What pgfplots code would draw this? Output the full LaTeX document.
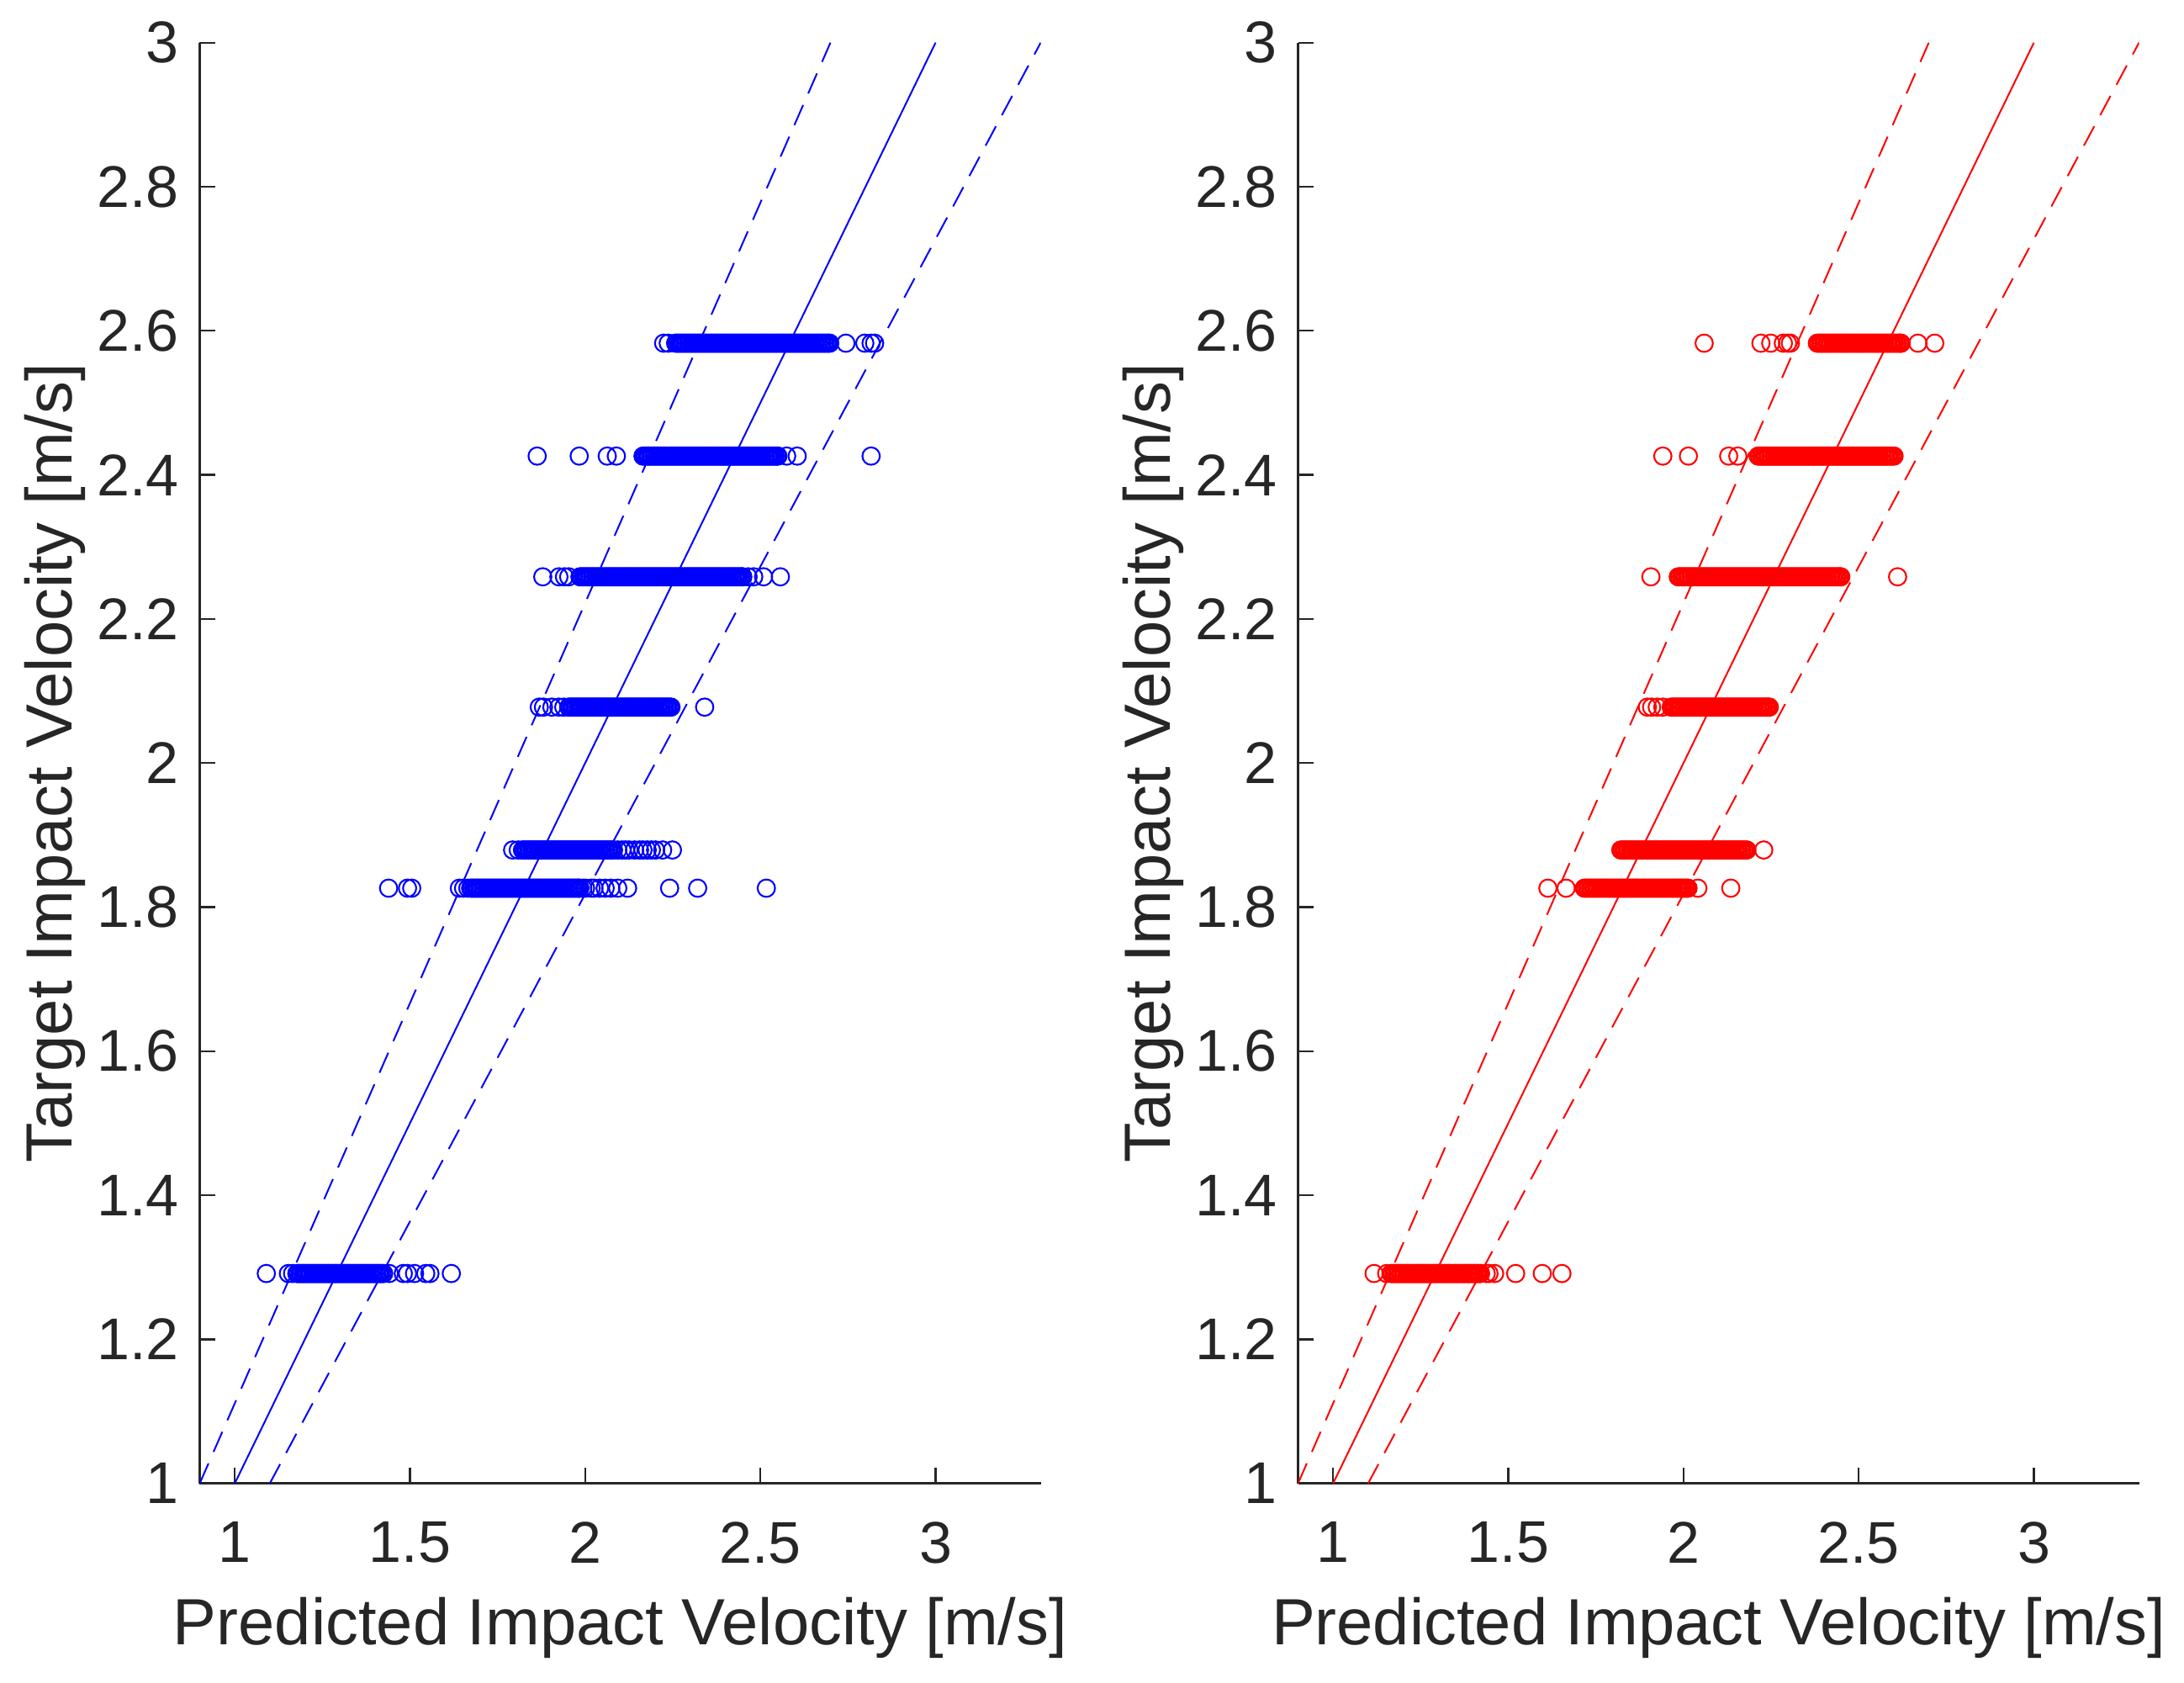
\documentclass[border=0pt]{standalone}
\usepackage{fontspec}
\setmainfont{Liberation Sans}
\usepackage{pgfplots}
\pgfplotsset{compat=1.18}
\definecolor{mgray}{rgb}{0.15,0.15,0.15}
\newcommand\ticksize{\fontsize{14pt}{16pt}\selectfont}
\newcommand\labelsize{\fontsize{15.55pt}{18pt}\selectfont}
\pgfplotsset{
  mstyle/.style={
    width=200pt, height=342.6pt, scale only axis,
    xmin=0.9, xmax=3.3, ymin=1, ymax=3,
    axis lines=left,
    axis line style={-, draw=mgray, line width=0.6pt},
    x axis line style={-}, y axis line style={-},
    tick align=inside, major tick length=3.7pt,
    tick style={draw=mgray, line width=0.45pt},
    xtick={1,1.5,2,2.5,3},
    ytick={1,1.2,1.4,1.6,1.8,2,2.2,2.4,2.6,2.8,3},
    /pgf/number format/assume math mode=true,
    ticklabel style={font=\ticksize, text=mgray},
    xticklabel style={anchor=north, inner sep=0pt, yshift=-9pt},
    yticklabel style={anchor=east, inner sep=0pt, xshift=-4.8pt},
    xlabel={Predicted Impact Velocity [m/s]},
    ylabel={Target Impact Velocity [m/s]},
    every axis x label/.style={at={(axis description cs:0.5,-0.11208)}, anchor=base, font=\labelsize, text=mgray},
    every axis y label/.style={at={(axis description cs:-0.152,0.5)}, rotate=90, anchor=base, font=\labelsize, text=mgray},
  },
  sc/.style={only marks, mark=o, mark size=2.07pt, mark options={line width=0.42pt, draw=#1}},
}
\begin{document}
\begin{tikzpicture}
\path[use as bounding box] (-47.5pt,-47.26pt) rectangle (471.9pt,352.74pt);
% ---------------- left panel ----------------
\begin{axis}[mstyle, at={(0pt,0pt)}, anchor=south west]
% y = 1.2914
\addplot[sc=blue] coordinates {
(1.090,1.2914)(1.153,1.2914)(1.165,1.2914)
(1.177,1.2914)(1.186,1.2914)(1.195,1.2914)(1.204,1.2914)(1.213,1.2914)(1.222,1.2914)(1.231,1.2914)(1.240,1.2914)(1.249,1.2914)(1.258,1.2914)(1.267,1.2914)(1.276,1.2914)(1.285,1.2914)(1.294,1.2914)(1.303,1.2914)(1.312,1.2914)(1.321,1.2914)(1.330,1.2914)(1.339,1.2914)(1.348,1.2914)(1.357,1.2914)(1.366,1.2914)(1.375,1.2914)(1.384,1.2914)(1.393,1.2914)(1.402,1.2914)(1.411,1.2914)(1.420,1.2914)
(1.425,1.2914)(1.441,1.2914)(1.481,1.2914)(1.493,1.2914)(1.513,1.2914)(1.545,1.2914)(1.557,1.2914)(1.618,1.2914)
};
\addplot[sc=blue] coordinates {
(1.181,1.2914)(1.190,1.2914)(1.199,1.2914)(1.208,1.2914)(1.217,1.2914)(1.226,1.2914)(1.235,1.2914)(1.244,1.2914)(1.253,1.2914)(1.262,1.2914)(1.271,1.2914)(1.280,1.2914)(1.289,1.2914)(1.298,1.2914)(1.307,1.2914)(1.316,1.2914)(1.325,1.2914)(1.334,1.2914)(1.343,1.2914)(1.352,1.2914)(1.361,1.2914)(1.370,1.2914)(1.379,1.2914)(1.388,1.2914)(1.397,1.2914)(1.406,1.2914)(1.415,1.2914)
};
% y = 1.8263
\addplot[sc=blue] coordinates {
(1.439,1.8263)(1.493,1.8263)(1.505,1.8263)(1.641,1.8263)(1.653,1.8263)(1.665,1.8263)
(1.673,1.8263)(1.682,1.8263)(1.691,1.8263)(1.700,1.8263)(1.709,1.8263)(1.718,1.8263)(1.727,1.8263)(1.736,1.8263)(1.745,1.8263)(1.754,1.8263)(1.763,1.8263)(1.772,1.8263)(1.781,1.8263)(1.790,1.8263)(1.799,1.8263)(1.808,1.8263)(1.817,1.8263)(1.826,1.8263)(1.835,1.8263)(1.844,1.8263)(1.853,1.8263)(1.862,1.8263)(1.871,1.8263)(1.880,1.8263)(1.889,1.8263)(1.898,1.8263)(1.907,1.8263)(1.916,1.8263)(1.925,1.8263)(1.934,1.8263)(1.943,1.8263)(1.952,1.8263)(1.961,1.8263)(1.970,1.8263)(1.979,1.8263)
(1.985,1.8263)(1.993,1.8263)(2.001,1.8263)(2.017,1.8263)(2.025,1.8263)(2.041,1.8263)(2.057,1.8263)(2.073,1.8263)(2.093,1.8263)(2.121,1.8263)(2.241,1.8263)(2.321,1.8263)(2.517,1.8263)
};
\addplot[sc=blue] coordinates {
(1.677,1.8263)(1.686,1.8263)(1.695,1.8263)(1.704,1.8263)(1.713,1.8263)(1.722,1.8263)(1.731,1.8263)(1.740,1.8263)(1.749,1.8263)(1.758,1.8263)(1.767,1.8263)(1.776,1.8263)(1.785,1.8263)(1.794,1.8263)(1.803,1.8263)(1.812,1.8263)(1.821,1.8263)(1.830,1.8263)(1.839,1.8263)(1.848,1.8263)(1.857,1.8263)(1.866,1.8263)(1.875,1.8263)(1.884,1.8263)(1.893,1.8263)(1.902,1.8263)(1.911,1.8263)(1.920,1.8263)(1.929,1.8263)(1.938,1.8263)(1.947,1.8263)(1.956,1.8263)(1.965,1.8263)(1.974,1.8263)(1.982,1.8263)
};
% y = 1.8793
\addplot[sc=blue] coordinates {
(1.793,1.8793)(1.809,1.8793)
(1.821,1.8793)(1.830,1.8793)(1.839,1.8793)(1.848,1.8793)(1.857,1.8793)(1.866,1.8793)(1.875,1.8793)(1.884,1.8793)(1.893,1.8793)(1.902,1.8793)(1.911,1.8793)(1.920,1.8793)(1.929,1.8793)(1.938,1.8793)(1.947,1.8793)(1.956,1.8793)(1.965,1.8793)(1.974,1.8793)(1.983,1.8793)(1.992,1.8793)(2.001,1.8793)(2.010,1.8793)(2.019,1.8793)(2.028,1.8793)(2.037,1.8793)(2.046,1.8793)(2.055,1.8793)(2.064,1.8793)(2.073,1.8793)
(2.081,1.8793)(2.093,1.8793)(2.105,1.8793)(2.115,1.8793)(2.125,1.8793)(2.141,1.8793)(2.155,1.8793)(2.165,1.8793)(2.177,1.8793)(2.189,1.8793)(2.201,1.8793)(2.221,1.8793)(2.249,1.8793)
};
\addplot[sc=blue] coordinates {
(1.825,1.8793)(1.834,1.8793)(1.843,1.8793)(1.852,1.8793)(1.861,1.8793)(1.870,1.8793)(1.879,1.8793)(1.888,1.8793)(1.897,1.8793)(1.906,1.8793)(1.915,1.8793)(1.924,1.8793)(1.933,1.8793)(1.942,1.8793)(1.951,1.8793)(1.960,1.8793)(1.969,1.8793)(1.978,1.8793)(1.987,1.8793)(1.996,1.8793)(2.005,1.8793)(2.014,1.8793)(2.023,1.8793)(2.032,1.8793)(2.041,1.8793)(2.050,1.8793)(2.059,1.8793)(2.068,1.8793)(2.077,1.8793)
};
% y = 2.0776
\addplot[sc=blue] coordinates {
(1.869,2.0776)(1.881,2.0776)(1.905,2.0776)(1.925,2.0776)(1.939,2.0776)
(1.953,2.0776)(1.962,2.0776)(1.971,2.0776)(1.980,2.0776)(1.989,2.0776)(1.998,2.0776)(2.007,2.0776)(2.016,2.0776)(2.025,2.0776)(2.034,2.0776)(2.043,2.0776)(2.052,2.0776)(2.061,2.0776)(2.070,2.0776)(2.079,2.0776)(2.088,2.0776)(2.097,2.0776)(2.106,2.0776)(2.115,2.0776)(2.124,2.0776)(2.133,2.0776)(2.142,2.0776)(2.151,2.0776)(2.160,2.0776)(2.169,2.0776)(2.178,2.0776)(2.187,2.0776)(2.196,2.0776)(2.205,2.0776)(2.214,2.0776)(2.223,2.0776)(2.232,2.0776)(2.241,2.0776)
(2.245,2.0776)(2.341,2.0776)
};
\addplot[sc=blue] coordinates {
(1.957,2.0776)(1.966,2.0776)(1.975,2.0776)(1.984,2.0776)(1.993,2.0776)(2.002,2.0776)(2.011,2.0776)(2.020,2.0776)(2.029,2.0776)(2.038,2.0776)(2.047,2.0776)(2.056,2.0776)(2.065,2.0776)(2.074,2.0776)(2.083,2.0776)(2.092,2.0776)(2.101,2.0776)(2.110,2.0776)(2.119,2.0776)(2.128,2.0776)(2.137,2.0776)(2.146,2.0776)(2.155,2.0776)(2.164,2.0776)(2.173,2.0776)(2.182,2.0776)(2.191,2.0776)(2.200,2.0776)(2.209,2.0776)(2.218,2.0776)(2.227,2.0776)(2.236,2.0776)
};
% y = 2.2585
\addplot[sc=blue] coordinates {
(1.879,2.2585)(1.925,2.2585)(1.941,2.2585)(1.953,2.2585)
(1.985,2.2585)(1.994,2.2585)(2.003,2.2585)(2.012,2.2585)(2.021,2.2585)(2.030,2.2585)(2.039,2.2585)(2.048,2.2585)(2.057,2.2585)(2.066,2.2585)(2.075,2.2585)(2.084,2.2585)(2.093,2.2585)(2.102,2.2585)(2.111,2.2585)(2.120,2.2585)(2.129,2.2585)(2.138,2.2585)(2.147,2.2585)(2.156,2.2585)(2.165,2.2585)(2.174,2.2585)(2.183,2.2585)(2.192,2.2585)(2.201,2.2585)(2.210,2.2585)(2.219,2.2585)(2.228,2.2585)(2.237,2.2585)(2.246,2.2585)(2.255,2.2585)(2.264,2.2585)(2.273,2.2585)(2.282,2.2585)(2.291,2.2585)(2.300,2.2585)(2.309,2.2585)(2.318,2.2585)(2.327,2.2585)(2.336,2.2585)(2.345,2.2585)(2.354,2.2585)(2.363,2.2585)(2.372,2.2585)(2.381,2.2585)(2.390,2.2585)(2.399,2.2585)(2.408,2.2585)(2.417,2.2585)(2.426,2.2585)(2.435,2.2585)(2.444,2.2585)
(2.450,2.2585)(2.465,2.2585)(2.481,2.2585)(2.509,2.2585)(2.557,2.2585)
};
\addplot[sc=blue] coordinates {
(1.989,2.2585)(1.998,2.2585)(2.007,2.2585)(2.016,2.2585)(2.025,2.2585)(2.034,2.2585)(2.043,2.2585)(2.052,2.2585)(2.061,2.2585)(2.070,2.2585)(2.079,2.2585)(2.088,2.2585)(2.097,2.2585)(2.106,2.2585)(2.115,2.2585)(2.124,2.2585)(2.133,2.2585)(2.142,2.2585)(2.151,2.2585)(2.160,2.2585)(2.169,2.2585)(2.178,2.2585)(2.187,2.2585)(2.196,2.2585)(2.205,2.2585)(2.214,2.2585)(2.223,2.2585)(2.232,2.2585)(2.241,2.2585)(2.250,2.2585)(2.259,2.2585)(2.268,2.2585)(2.277,2.2585)(2.286,2.2585)(2.295,2.2585)(2.304,2.2585)(2.313,2.2585)(2.322,2.2585)(2.331,2.2585)(2.340,2.2585)(2.349,2.2585)(2.358,2.2585)(2.367,2.2585)(2.376,2.2585)(2.385,2.2585)(2.394,2.2585)(2.403,2.2585)(2.412,2.2585)(2.421,2.2585)(2.430,2.2585)(2.439,2.2585)(2.447,2.2585)
};
% y = 2.4261
\addplot[sc=blue] coordinates {
(1.863,2.4261)(1.983,2.4261)(2.063,2.4261)(2.089,2.4261)(2.165,2.4261)
(2.169,2.4261)(2.178,2.4261)(2.187,2.4261)(2.196,2.4261)(2.205,2.4261)(2.214,2.4261)(2.223,2.4261)(2.232,2.4261)(2.241,2.4261)(2.250,2.4261)(2.259,2.4261)(2.268,2.4261)(2.277,2.4261)(2.286,2.4261)(2.295,2.4261)(2.304,2.4261)(2.313,2.4261)(2.322,2.4261)(2.331,2.4261)(2.340,2.4261)(2.349,2.4261)(2.358,2.4261)(2.367,2.4261)(2.376,2.4261)(2.385,2.4261)(2.394,2.4261)(2.403,2.4261)(2.412,2.4261)(2.421,2.4261)(2.430,2.4261)(2.439,2.4261)(2.448,2.4261)(2.457,2.4261)(2.466,2.4261)(2.475,2.4261)(2.484,2.4261)(2.493,2.4261)(2.502,2.4261)(2.511,2.4261)(2.520,2.4261)(2.529,2.4261)(2.538,2.4261)(2.547,2.4261)
(2.550,2.4261)(2.575,2.4261)(2.605,2.4261)(2.816,2.4261)
};
\addplot[sc=blue] coordinates {
(2.173,2.4261)(2.182,2.4261)(2.191,2.4261)(2.200,2.4261)(2.209,2.4261)(2.218,2.4261)(2.227,2.4261)(2.236,2.4261)(2.245,2.4261)(2.254,2.4261)(2.263,2.4261)(2.272,2.4261)(2.281,2.4261)(2.290,2.4261)(2.299,2.4261)(2.308,2.4261)(2.317,2.4261)(2.326,2.4261)(2.335,2.4261)(2.344,2.4261)(2.353,2.4261)(2.362,2.4261)(2.371,2.4261)(2.380,2.4261)(2.389,2.4261)(2.398,2.4261)(2.407,2.4261)(2.416,2.4261)(2.425,2.4261)(2.434,2.4261)(2.443,2.4261)(2.452,2.4261)(2.461,2.4261)(2.470,2.4261)(2.479,2.4261)(2.488,2.4261)(2.497,2.4261)(2.506,2.4261)(2.515,2.4261)(2.524,2.4261)(2.533,2.4261)(2.542,2.4261)
};
% y = 2.5828
\addplot[sc=blue] coordinates {
(2.224,2.5828)(2.237,2.5828)
(2.258,2.5828)(2.267,2.5828)(2.276,2.5828)(2.285,2.5828)(2.294,2.5828)(2.303,2.5828)(2.312,2.5828)(2.321,2.5828)(2.330,2.5828)(2.339,2.5828)(2.348,2.5828)(2.357,2.5828)(2.366,2.5828)(2.375,2.5828)(2.384,2.5828)(2.393,2.5828)(2.402,2.5828)(2.411,2.5828)(2.420,2.5828)(2.429,2.5828)(2.438,2.5828)(2.447,2.5828)(2.456,2.5828)(2.465,2.5828)(2.474,2.5828)(2.483,2.5828)(2.492,2.5828)(2.501,2.5828)(2.510,2.5828)(2.519,2.5828)(2.528,2.5828)(2.537,2.5828)(2.546,2.5828)(2.555,2.5828)(2.564,2.5828)(2.573,2.5828)(2.582,2.5828)(2.591,2.5828)(2.600,2.5828)(2.609,2.5828)(2.618,2.5828)(2.627,2.5828)(2.636,2.5828)(2.645,2.5828)(2.654,2.5828)(2.663,2.5828)(2.672,2.5828)(2.681,2.5828)(2.690,2.5828)
(2.698,2.5828)(2.744,2.5828)(2.798,2.5828)(2.816,2.5828)(2.826,2.5828)
};
\addplot[sc=blue] coordinates {
(2.262,2.5828)(2.271,2.5828)(2.280,2.5828)(2.289,2.5828)(2.298,2.5828)(2.307,2.5828)(2.316,2.5828)(2.325,2.5828)(2.334,2.5828)(2.343,2.5828)(2.352,2.5828)(2.361,2.5828)(2.370,2.5828)(2.379,2.5828)(2.388,2.5828)(2.397,2.5828)(2.406,2.5828)(2.415,2.5828)(2.424,2.5828)(2.433,2.5828)(2.442,2.5828)(2.451,2.5828)(2.460,2.5828)(2.469,2.5828)(2.478,2.5828)(2.487,2.5828)(2.496,2.5828)(2.505,2.5828)(2.514,2.5828)(2.523,2.5828)(2.532,2.5828)(2.541,2.5828)(2.550,2.5828)(2.559,2.5828)(2.568,2.5828)(2.577,2.5828)(2.586,2.5828)(2.595,2.5828)(2.604,2.5828)(2.613,2.5828)(2.622,2.5828)(2.631,2.5828)(2.640,2.5828)(2.649,2.5828)(2.658,2.5828)(2.667,2.5828)(2.676,2.5828)(2.685,2.5828)(2.694,2.5828)
};
\addplot[blue, line width=0.4pt] coordinates {(1,1) (3,3)};
\addplot[blue, line width=0.4pt, dash pattern=on 5.2pt off 3pt] coordinates {(0.9,1) (2.7,3)};
\addplot[blue, line width=0.4pt, dash pattern=on 5.2pt off 3pt] coordinates {(1.1,1) (3.3,3)};
\end{axis}
% ---------------- right panel ----------------
\begin{axis}[mstyle, at={(261.2pt,0pt)}, anchor=south west]
% y = 1.2914
\addplot[sc=red] coordinates {
(1.117,1.2914)(1.153,1.2914)
(1.165,1.2914)(1.174,1.2914)(1.183,1.2914)(1.192,1.2914)(1.201,1.2914)(1.210,1.2914)(1.219,1.2914)(1.228,1.2914)(1.237,1.2914)(1.246,1.2914)(1.255,1.2914)(1.264,1.2914)(1.273,1.2914)(1.282,1.2914)(1.291,1.2914)(1.300,1.2914)(1.309,1.2914)(1.318,1.2914)(1.327,1.2914)(1.336,1.2914)(1.345,1.2914)(1.354,1.2914)(1.363,1.2914)(1.372,1.2914)(1.381,1.2914)(1.390,1.2914)(1.399,1.2914)(1.408,1.2914)(1.417,1.2914)
(1.421,1.2914)(1.437,1.2914)(1.445,1.2914)(1.461,1.2914)(1.521,1.2914)(1.597,1.2914)(1.653,1.2914)
};
\addplot[sc=red] coordinates {
(1.169,1.2914)(1.178,1.2914)(1.187,1.2914)(1.196,1.2914)(1.205,1.2914)(1.214,1.2914)(1.223,1.2914)(1.232,1.2914)(1.241,1.2914)(1.250,1.2914)(1.259,1.2914)(1.268,1.2914)(1.277,1.2914)(1.286,1.2914)(1.295,1.2914)(1.304,1.2914)(1.313,1.2914)(1.322,1.2914)(1.331,1.2914)(1.340,1.2914)(1.349,1.2914)(1.358,1.2914)(1.367,1.2914)(1.376,1.2914)(1.385,1.2914)(1.394,1.2914)(1.403,1.2914)(1.412,1.2914)
};
% y = 1.8263
\addplot[sc=red] coordinates {
(1.613,1.8263)(1.665,1.8263)
(1.717,1.8263)(1.726,1.8263)(1.735,1.8263)(1.744,1.8263)(1.753,1.8263)(1.762,1.8263)(1.771,1.8263)(1.780,1.8263)(1.789,1.8263)(1.798,1.8263)(1.807,1.8263)(1.816,1.8263)(1.825,1.8263)(1.834,1.8263)(1.843,1.8263)(1.852,1.8263)(1.861,1.8263)(1.870,1.8263)(1.879,1.8263)(1.888,1.8263)(1.897,1.8263)(1.906,1.8263)(1.915,1.8263)(1.924,1.8263)(1.933,1.8263)(1.942,1.8263)(1.951,1.8263)(1.960,1.8263)(1.969,1.8263)(1.978,1.8263)(1.987,1.8263)(1.996,1.8263)(2.005,1.8263)
(2.013,1.8263)(2.041,1.8263)(2.135,1.8263)
};
\addplot[sc=red] coordinates {
(1.721,1.8263)(1.730,1.8263)(1.739,1.8263)(1.748,1.8263)(1.757,1.8263)(1.766,1.8263)(1.775,1.8263)(1.784,1.8263)(1.793,1.8263)(1.802,1.8263)(1.811,1.8263)(1.820,1.8263)(1.829,1.8263)(1.838,1.8263)(1.847,1.8263)(1.856,1.8263)(1.865,1.8263)(1.874,1.8263)(1.883,1.8263)(1.892,1.8263)(1.901,1.8263)(1.910,1.8263)(1.919,1.8263)(1.928,1.8263)(1.937,1.8263)(1.946,1.8263)(1.955,1.8263)(1.964,1.8263)(1.973,1.8263)(1.982,1.8263)(1.991,1.8263)(2.000,1.8263)(2.009,1.8263)
};
% y = 1.8793
\addplot[sc=red] coordinates {
(1.821,1.8793)(1.830,1.8793)(1.839,1.8793)(1.848,1.8793)(1.853,1.8793)(1.857,1.8793)(1.866,1.8793)(1.875,1.8793)(1.884,1.8793)(1.893,1.8793)(1.902,1.8793)(1.911,1.8793)(1.920,1.8793)(1.929,1.8793)(1.938,1.8793)(1.947,1.8793)(1.956,1.8793)(1.965,1.8793)(1.974,1.8793)(1.983,1.8793)(1.992,1.8793)(2.001,1.8793)(2.010,1.8793)(2.019,1.8793)(2.028,1.8793)(2.037,1.8793)(2.046,1.8793)(2.055,1.8793)(2.064,1.8793)(2.073,1.8793)(2.082,1.8793)(2.091,1.8793)(2.100,1.8793)(2.109,1.8793)(2.118,1.8793)(2.127,1.8793)(2.136,1.8793)(2.145,1.8793)(2.154,1.8793)(2.163,1.8793)(2.172,1.8793)(2.181,1.8793)
(2.229,1.8793)
};
\addplot[sc=red] coordinates {
(1.825,1.8793)(1.834,1.8793)(1.843,1.8793)(1.852,1.8793)(1.861,1.8793)(1.870,1.8793)(1.879,1.8793)(1.888,1.8793)(1.897,1.8793)(1.906,1.8793)(1.915,1.8793)(1.924,1.8793)(1.933,1.8793)(1.942,1.8793)(1.951,1.8793)(1.960,1.8793)(1.969,1.8793)(1.978,1.8793)(1.987,1.8793)(1.996,1.8793)(2.005,1.8793)(2.014,1.8793)(2.023,1.8793)(2.032,1.8793)(2.041,1.8793)(2.050,1.8793)(2.059,1.8793)(2.068,1.8793)(2.077,1.8793)(2.086,1.8793)(2.095,1.8793)(2.104,1.8793)(2.113,1.8793)(2.122,1.8793)(2.131,1.8793)(2.140,1.8793)(2.149,1.8793)(2.158,1.8793)(2.167,1.8793)(2.176,1.8793)
};
% y = 2.0776
\addplot[sc=red] coordinates {
(1.897,2.0776)(1.909,2.0776)(1.925,2.0776)(1.941,2.0776)
(1.965,2.0776)(1.974,2.0776)(1.983,2.0776)(1.992,2.0776)(2.001,2.0776)(2.010,2.0776)(2.019,2.0776)(2.028,2.0776)(2.037,2.0776)(2.046,2.0776)(2.055,2.0776)(2.064,2.0776)(2.073,2.0776)(2.082,2.0776)(2.091,2.0776)(2.100,2.0776)(2.109,2.0776)(2.118,2.0776)(2.127,2.0776)(2.136,2.0776)(2.145,2.0776)(2.154,2.0776)(2.163,2.0776)(2.172,2.0776)(2.181,2.0776)(2.190,2.0776)(2.199,2.0776)(2.208,2.0776)(2.217,2.0776)(2.226,2.0776)(2.235,2.0776)
(2.241,2.0776)(2.245,2.0776)
};
\addplot[sc=red] coordinates {
(1.969,2.0776)(1.978,2.0776)(1.987,2.0776)(1.996,2.0776)(2.005,2.0776)(2.014,2.0776)(2.023,2.0776)(2.032,2.0776)(2.041,2.0776)(2.050,2.0776)(2.059,2.0776)(2.068,2.0776)(2.077,2.0776)(2.086,2.0776)(2.095,2.0776)(2.104,2.0776)(2.113,2.0776)(2.122,2.0776)(2.131,2.0776)(2.140,2.0776)(2.149,2.0776)(2.158,2.0776)(2.167,2.0776)(2.176,2.0776)(2.185,2.0776)(2.194,2.0776)(2.203,2.0776)(2.212,2.0776)(2.221,2.0776)(2.230,2.0776)(2.238,2.0776)
};
% y = 2.2585
\addplot[sc=red] coordinates {
(1.907,2.2585)
(1.985,2.2585)(1.994,2.2585)(2.003,2.2585)(2.012,2.2585)(2.021,2.2585)(2.030,2.2585)(2.039,2.2585)(2.048,2.2585)(2.057,2.2585)(2.066,2.2585)(2.075,2.2585)(2.084,2.2585)(2.093,2.2585)(2.102,2.2585)(2.111,2.2585)(2.120,2.2585)(2.129,2.2585)(2.138,2.2585)(2.147,2.2585)(2.156,2.2585)(2.165,2.2585)(2.174,2.2585)(2.183,2.2585)(2.192,2.2585)(2.201,2.2585)(2.210,2.2585)(2.219,2.2585)(2.228,2.2585)(2.237,2.2585)(2.246,2.2585)(2.255,2.2585)(2.264,2.2585)(2.273,2.2585)(2.282,2.2585)(2.291,2.2585)(2.300,2.2585)(2.309,2.2585)(2.318,2.2585)(2.327,2.2585)(2.336,2.2585)(2.345,2.2585)(2.354,2.2585)(2.363,2.2585)(2.372,2.2585)(2.381,2.2585)(2.390,2.2585)(2.399,2.2585)(2.408,2.2585)(2.417,2.2585)(2.426,2.2585)(2.435,2.2585)(2.444,2.2585)
(2.449,2.2585)(2.611,2.2585)
};
\addplot[sc=red] coordinates {
(1.989,2.2585)(1.998,2.2585)(2.007,2.2585)(2.016,2.2585)(2.025,2.2585)(2.034,2.2585)(2.043,2.2585)(2.052,2.2585)(2.061,2.2585)(2.070,2.2585)(2.079,2.2585)(2.088,2.2585)(2.097,2.2585)(2.106,2.2585)(2.115,2.2585)(2.124,2.2585)(2.133,2.2585)(2.142,2.2585)(2.151,2.2585)(2.160,2.2585)(2.169,2.2585)(2.178,2.2585)(2.187,2.2585)(2.196,2.2585)(2.205,2.2585)(2.214,2.2585)(2.223,2.2585)(2.232,2.2585)(2.241,2.2585)(2.250,2.2585)(2.259,2.2585)(2.268,2.2585)(2.277,2.2585)(2.286,2.2585)(2.295,2.2585)(2.304,2.2585)(2.313,2.2585)(2.322,2.2585)(2.331,2.2585)(2.340,2.2585)(2.349,2.2585)(2.358,2.2585)(2.367,2.2585)(2.376,2.2585)(2.385,2.2585)(2.394,2.2585)(2.403,2.2585)(2.412,2.2585)(2.421,2.2585)(2.430,2.2585)(2.439,2.2585)(2.447,2.2585)
};
% y = 2.4261
\addplot[sc=red] coordinates {
(1.941,2.4261)(2.014,2.4261)(2.129,2.4261)(2.155,2.4261)
(2.213,2.4261)(2.222,2.4261)(2.231,2.4261)(2.240,2.4261)(2.249,2.4261)(2.258,2.4261)(2.267,2.4261)(2.276,2.4261)(2.285,2.4261)(2.294,2.4261)(2.303,2.4261)(2.312,2.4261)(2.321,2.4261)(2.330,2.4261)(2.339,2.4261)(2.348,2.4261)(2.357,2.4261)(2.366,2.4261)(2.375,2.4261)(2.384,2.4261)(2.393,2.4261)(2.402,2.4261)(2.411,2.4261)(2.420,2.4261)(2.429,2.4261)(2.438,2.4261)(2.447,2.4261)(2.456,2.4261)(2.465,2.4261)(2.474,2.4261)(2.483,2.4261)(2.492,2.4261)(2.501,2.4261)(2.510,2.4261)(2.519,2.4261)(2.528,2.4261)(2.537,2.4261)(2.546,2.4261)(2.555,2.4261)(2.564,2.4261)(2.573,2.4261)(2.582,2.4261)(2.591,2.4261)
(2.601,2.4261)
};
\addplot[sc=red] coordinates {
(2.217,2.4261)(2.226,2.4261)(2.235,2.4261)(2.244,2.4261)(2.253,2.4261)(2.262,2.4261)(2.271,2.4261)(2.280,2.4261)(2.289,2.4261)(2.298,2.4261)(2.307,2.4261)(2.316,2.4261)(2.325,2.4261)(2.334,2.4261)(2.343,2.4261)(2.352,2.4261)(2.361,2.4261)(2.370,2.4261)(2.379,2.4261)(2.388,2.4261)(2.397,2.4261)(2.406,2.4261)(2.415,2.4261)(2.424,2.4261)(2.433,2.4261)(2.442,2.4261)(2.451,2.4261)(2.460,2.4261)(2.469,2.4261)(2.478,2.4261)(2.487,2.4261)(2.496,2.4261)(2.505,2.4261)(2.514,2.4261)(2.523,2.4261)(2.532,2.4261)(2.541,2.4261)(2.550,2.4261)(2.559,2.4261)(2.568,2.4261)(2.577,2.4261)(2.586,2.4261)(2.596,2.4261)
};
% y = 2.5828
\addplot[sc=red] coordinates {
(2.059,2.5828)(2.221,2.5828)(2.249,2.5828)(2.285,2.5828)(2.297,2.5828)(2.305,2.5828)
(2.382,2.5828)(2.391,2.5828)(2.400,2.5828)(2.409,2.5828)(2.418,2.5828)(2.427,2.5828)(2.436,2.5828)(2.445,2.5828)(2.454,2.5828)(2.463,2.5828)(2.472,2.5828)(2.481,2.5828)(2.490,2.5828)(2.499,2.5828)(2.508,2.5828)(2.517,2.5828)(2.526,2.5828)(2.535,2.5828)(2.544,2.5828)(2.553,2.5828)(2.562,2.5828)(2.571,2.5828)(2.580,2.5828)(2.589,2.5828)(2.598,2.5828)(2.607,2.5828)(2.616,2.5828)
(2.621,2.5828)(2.669,2.5828)(2.717,2.5828)
};
\addplot[sc=red] coordinates {
(2.386,2.5828)(2.395,2.5828)(2.404,2.5828)(2.413,2.5828)(2.422,2.5828)(2.431,2.5828)(2.440,2.5828)(2.449,2.5828)(2.458,2.5828)(2.467,2.5828)(2.476,2.5828)(2.485,2.5828)(2.494,2.5828)(2.503,2.5828)(2.512,2.5828)(2.521,2.5828)(2.530,2.5828)(2.539,2.5828)(2.548,2.5828)(2.557,2.5828)(2.566,2.5828)(2.575,2.5828)(2.584,2.5828)(2.593,2.5828)(2.602,2.5828)(2.611,2.5828)(2.619,2.5828)
};
\addplot[red, line width=0.4pt] coordinates {(1,1) (3,3)};
\addplot[red, line width=0.4pt, dash pattern=on 5.2pt off 3pt] coordinates {(0.9,1) (2.7,3)};
\addplot[red, line width=0.4pt, dash pattern=on 5.2pt off 3pt] coordinates {(1.1,1) (3.3,3)};
\end{axis}
\end{tikzpicture}
\end{document}
